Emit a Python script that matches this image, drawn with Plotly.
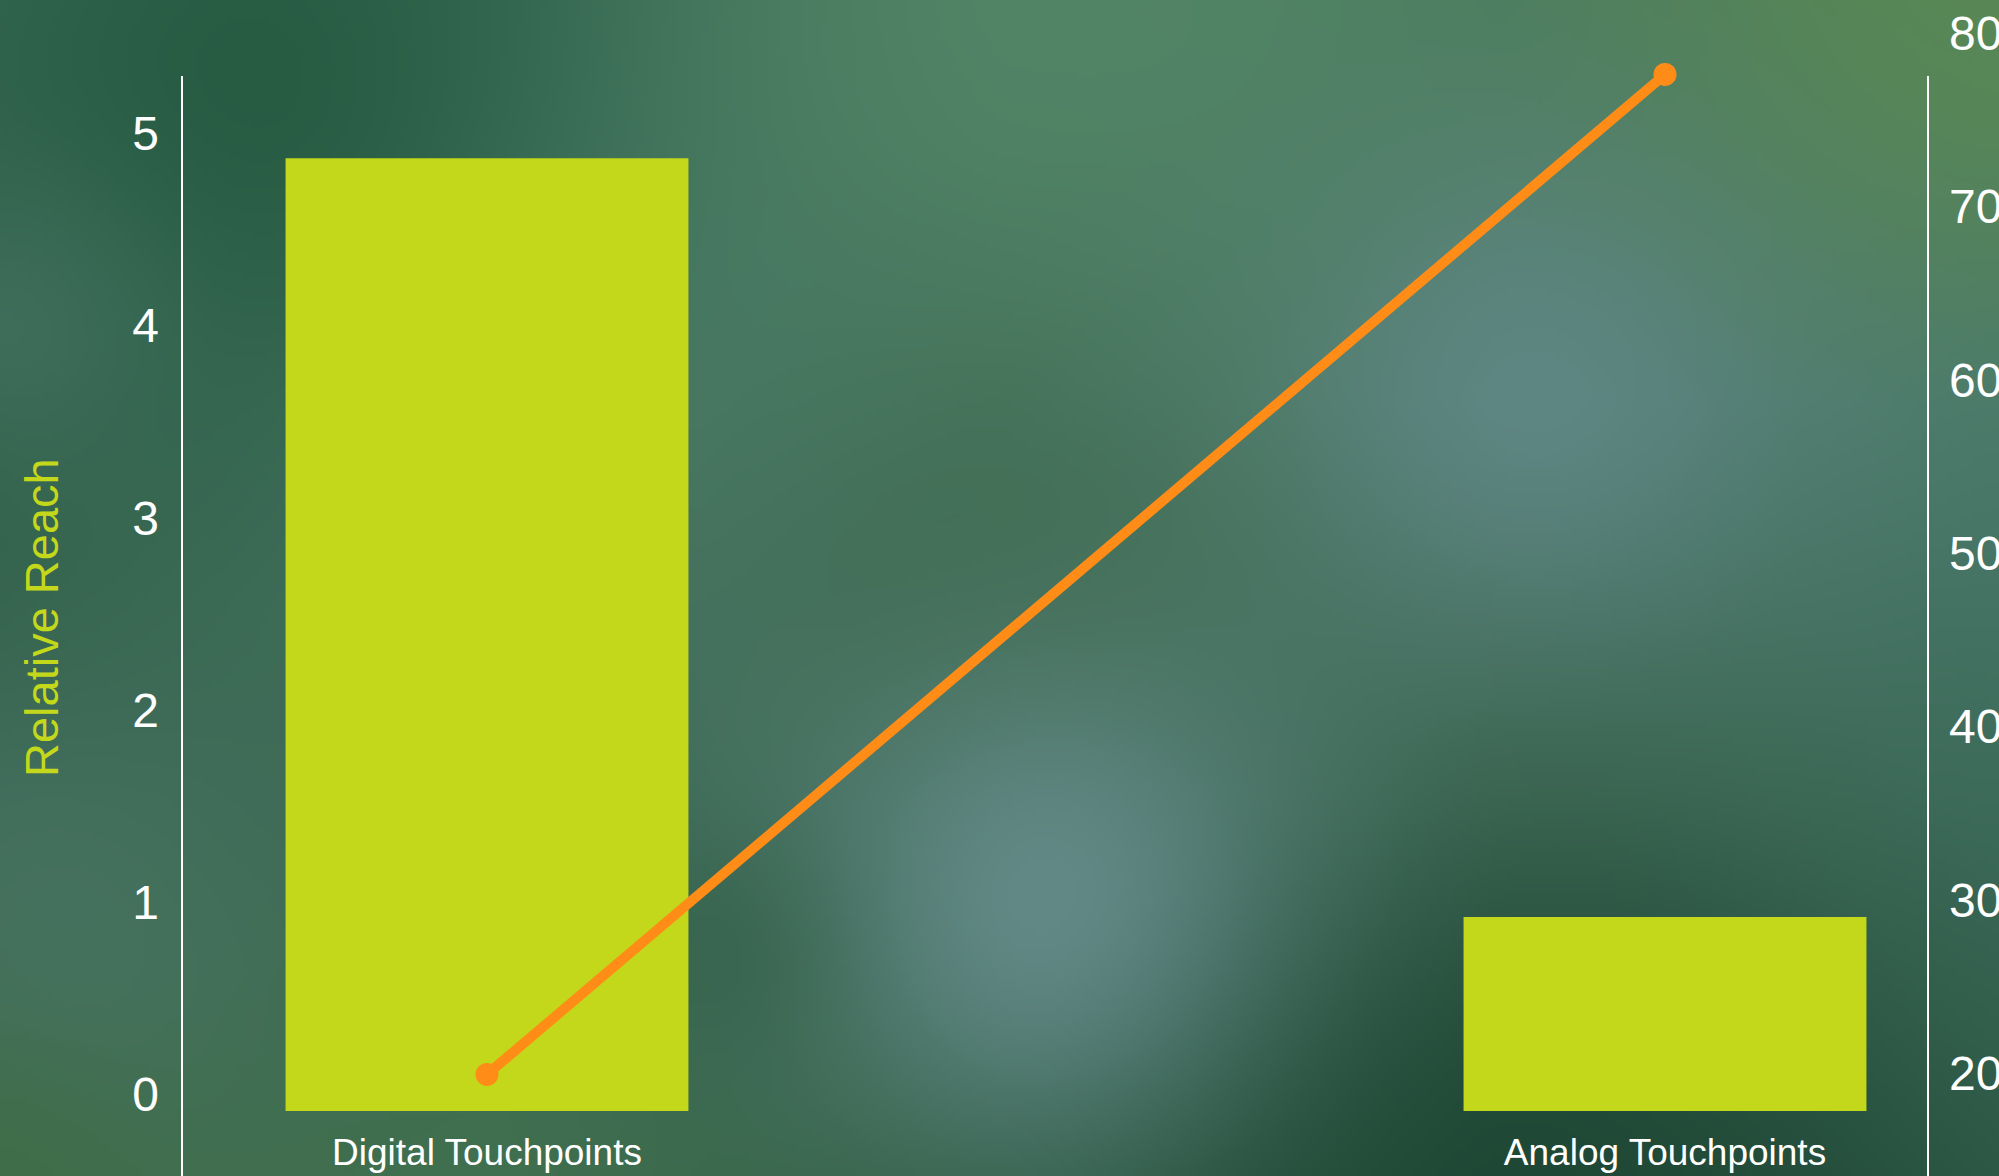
import base64
import struct
import zlib

import numpy as np
import plotly.graph_objects as go

# ---- data ----
categories = ["Digital Touchpoints", "Analog Touchpoints"]
relative_reach = [4.96, 1.01]
share_values = [20.9, 78.6]

BAR_COLOR = "#c3d81a"
LINE_COLOR = "#ff8c17"
FONT = "Liberation Sans, Arial, sans-serif"

W, H = 1999, 1176
L, R, T, B = 182, 71, 40, 65  # margins in px
PLOT_H = H - T - B
PLOT_W = W - L - R


# ---- soft blurred backdrop, rendered to a small PNG ----
def hex_rgb(h):
    h = h.lstrip("#")
    return np.array([int(h[i:i + 2], 16) for i in (0, 2, 4)], dtype=float)


def backdrop(w=400, h=235):
    xs = np.linspace(0, W, w)
    ys = np.linspace(0, H, h)
    gx = [0, 500, 1000, 1500, 1999]
    gy = [0, 400, 800, 1176]
    grid = [
        ["#3a6b56", "#3c6e58", "#4f8066", "#4d7d60", "#568556"],
        ["#2d5d45", "#4a7a68", "#4a7a65", "#567f74", "#4b7a6c"],
        ["#3e6b58", "#3d6b55", "#4a7569", "#3f6a55", "#3e6c5b"],
        ["#3f6c4c", "#40704f", "#335f48", "#214a37", "#2e5a47"],
    ]
    g = np.array([[hex_rgb(c) for c in row] for row in grid])
    # bilinear interpolation of the coarse colour grid
    rows = np.empty((len(gy), w, 3))
    for i in range(len(gy)):
        for c in range(3):
            rows[i, :, c] = np.interp(xs, gx, g[i, :, c])
    img = np.empty((h, w, 3))
    for c in range(3):
        for j in range(w):
            img[:, j, c] = np.interp(ys, gy, rows[:, j, c])

    X, Y = np.meshgrid(xs, ys)
    blobs = [
        (250, 80, 220, "#22573d", 0.8),
        (1050, 0, 250, "#558a66", 0.5),
        (1999, 0, 200, "#5a8a55", 0.6),
        (1000, 600, 200, "#3b6548", 0.6),
        (1060, 910, 170, "#6a9090", 0.85),
        (1540, 400, 150, "#62898a", 0.7),
        (1550, 1170, 220, "#1e4634", 0.7),
        (0, 330, 120, "#4a7868", 0.6),
        (60, 950, 150, "#4c7868", 0.5),
        (0, 1176, 100, "#3f6d45", 0.6),
        (720, 950, 90, "#2c5a42", 0.45),
    ]
    for cx, cy, s, col, k in blobs:
        a = k * np.exp(-((X - cx) ** 2 + (Y - cy) ** 2) / (2 * s * s))
        img = img * (1 - a[..., None]) + hex_rgb(col) * a[..., None]
    return np.clip(img, 0, 255).astype(np.uint8)


def png_uri(arr):
    h, w, _ = arr.shape
    raw = b"".join(b"\x00" + arr[y].tobytes() for y in range(h))

    def chunk(tag, data):
        return (struct.pack(">I", len(data)) + tag + data
                + struct.pack(">I", zlib.crc32(tag + data) & 0xFFFFFFFF))

    png = (b"\x89PNG\r\n\x1a\n"
           + chunk(b"IHDR", struct.pack(">IIBBBBB", w, h, 8, 2, 0, 0, 0))
           + chunk(b"IDAT", zlib.compress(raw, 9))
           + chunk(b"IEND", b""))
    return "data:image/png;base64," + base64.b64encode(png).decode()


bg_src = png_uri(backdrop())

# ---- axis scales (px per unit) ----
y_px = 192.1
y2_px = 17.33
y_range = [0, PLOT_H / y_px]
y2_low = 20 - 21 / y2_px
y2_range = [y2_low, y2_low + PLOT_H / y2_px]
x_px = 1178
x_low = -(487 - L) / x_px
x_range = [x_low, x_low + PLOT_W / x_px]

fig = go.Figure()
fig.add_trace(go.Bar(
    x=categories, y=relative_reach, width=0.342,
    marker=dict(color=BAR_COLOR, line=dict(width=0)),
    name="Relative Reach",
))
fig.add_trace(go.Scatter(
    x=categories, y=share_values, yaxis="y2", mode="lines+markers",
    line=dict(color=LINE_COLOR, width=10),
    marker=dict(color=LINE_COLOR, size=23),
    name="Share",
))


def paper_y(px):
    return (H - B - px) / PLOT_H


def paper_x(px):
    return (px - L) / PLOT_W


axis_line = dict(color="white", width=2)
fig.add_shape(type="line", xref="paper", yref="paper",
              x0=0, x1=0, y0=paper_y(76), y1=paper_y(H + 5), line=axis_line)
fig.add_shape(type="line", xref="paper", yref="paper",
              x0=1, x1=1, y0=paper_y(76), y1=paper_y(H + 5), line=axis_line)

# left axis title
fig.add_annotation(
    text="Relative Reach", xref="paper", yref="paper",
    x=paper_x(41), y=paper_y(618), textangle=-90, showarrow=False,
    xanchor="center", yanchor="middle",
    font=dict(size=47, color=BAR_COLOR, family=FONT),
)

fig.add_layout_image(dict(
    source=bg_src, xref="paper", yref="paper",
    x=paper_x(0), y=paper_y(0),
    sizex=W / PLOT_W, sizey=H / PLOT_H,
    sizing="stretch", xanchor="left", yanchor="top", layer="below",
))

fig.update_layout(
    width=W, height=H,
    margin=dict(l=L, r=R, t=T, b=B, autoexpand=False),
    paper_bgcolor="#3b6b55", plot_bgcolor="rgba(0,0,0,0)",
    showlegend=False,
    font=dict(family=FONT, color="white"),
    xaxis=dict(
        range=x_range, showgrid=False, zeroline=False, showline=False,
        ticks="", tickfont=dict(size=37, color="white"),
        ticklabelstandoff=16,
    ),
    yaxis=dict(
        range=y_range, dtick=1, showgrid=False, zeroline=False,
        showline=False, ticks="", tickfont=dict(size=48, color="white"),
        ticklabelstandoff=22, ticklabelshift=-17,
    ),
    yaxis2=dict(
        range=y2_range, dtick=10, overlaying="y", side="right",
        showgrid=False, zeroline=False, showline=False, ticks="",
        tickfont=dict(size=48, color="white"),
        ticklabelstandoff=20, ticklabelshift=-17,
    ),
)

fig.write_html("out.html")
